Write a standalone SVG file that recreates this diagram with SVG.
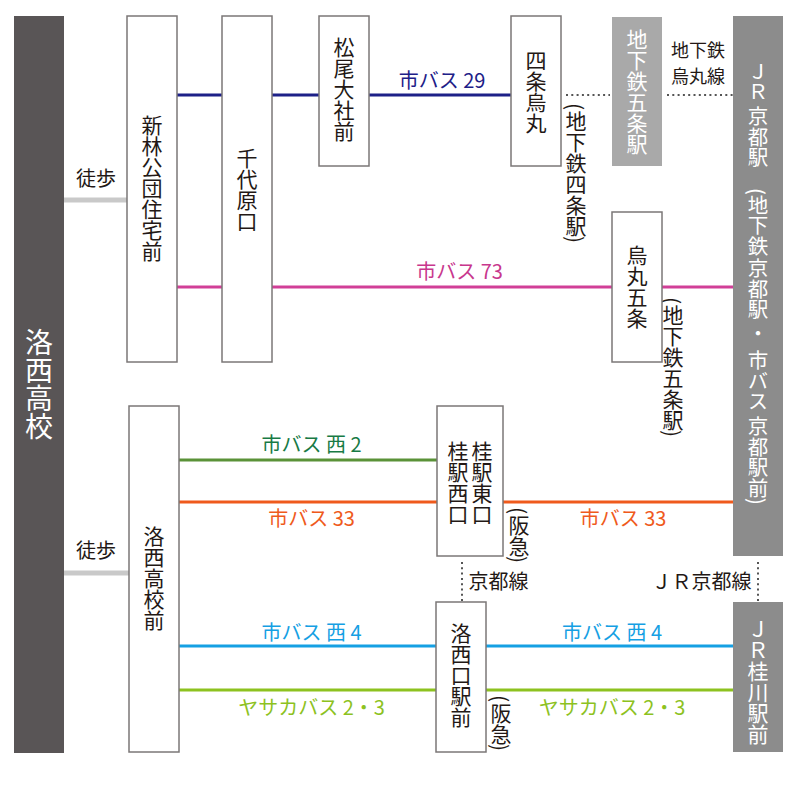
<svg xmlns="http://www.w3.org/2000/svg" width="800" height="794" viewBox="0 0 800 794">
<style>
text{font-family:"Noto Sans CJK JP","Noto Sans",sans-serif;}
.box{fill:#fff;stroke:#7b7777;stroke-width:1.5;}
.v{writing-mode:vertical-rl;font-size:21px;fill:#231815;}
.vw{writing-mode:vertical-rl;font-size:20.5px;fill:#fff;}
.h{font-size:20px;fill:#231815;}
.c{text-anchor:middle;font-size:20px;}
.walk{stroke:#c9c9c9;stroke-width:5;fill:none;}
.dot{stroke:#555;stroke-width:2;stroke-dasharray:2 3.3;fill:none;}
.ln{stroke-width:3;fill:none;}
</style>
<rect width="800" height="794" fill="#fff"/>

<g id="connectors">
  <line class="walk" x1="64" y1="200" x2="127" y2="200"/>
  <line class="walk" x1="64" y1="573" x2="129" y2="573"/>
  <g stroke="#1d2088" class="ln">
    <line x1="177" y1="95" x2="222" y2="95"/>
    <line x1="272" y1="95" x2="319" y2="95"/>
    <line x1="369" y1="95" x2="511" y2="95"/>
  </g>
  <g stroke="#d13f97" class="ln">
    <line x1="177" y1="287" x2="222" y2="287"/>
    <line x1="272" y1="287" x2="612" y2="287"/>
    <line x1="662" y1="287" x2="733" y2="287"/>
  </g>
  <line stroke="#5a9238" class="ln" x1="179" y1="460" x2="437" y2="460"/>
  <g stroke="#ef5a1c" class="ln">
    <line x1="179" y1="502" x2="437" y2="502"/>
    <line x1="503" y1="502" x2="733" y2="502"/>
  </g>
  <g stroke="#15a0e3" class="ln">
    <line x1="179" y1="646" x2="436" y2="646"/>
    <line x1="486" y1="646" x2="733" y2="646"/>
  </g>
  <g stroke="#8dc21f" class="ln">
    <line x1="179" y1="690" x2="436" y2="690"/>
    <line x1="486" y1="690" x2="733" y2="690"/>
  </g>
  <line class="dot" x1="566" y1="95" x2="610" y2="95"/>
  <line class="dot" x1="667" y1="95" x2="733" y2="95"/>
  <line class="dot" x1="462" y1="562" x2="462" y2="602"/>
  <line class="dot" x1="758" y1="562" x2="758" y2="602"/>

  <text class="h" x="76" y="186">徒歩</text>
  <text class="h" x="76" y="558">徒歩</text>
  <text class="c" x="442" y="88" fill="#1d2088">市バス 29</text>
  <text class="c" x="459.5" y="279" fill="#c8378d">市バス 73</text>
  <text class="c" x="311.5" y="452" fill="#187a45">市バス 西 2</text>
  <text class="c" x="311.5" y="526" fill="#ef5a1c">市バス 33</text>
  <text class="c" x="623" y="526" fill="#ef5a1c">市バス 33</text>
  <text class="c" x="311.5" y="640" fill="#15a0e3">市バス 西 4</text>
  <text class="c" x="612" y="640" fill="#15a0e3">市バス 西 4</text>
  <text class="c" x="311.5" y="715" fill="#8dc21f">ヤサカバス 2・3</text>
  <text class="c" x="612" y="715" fill="#8dc21f">ヤサカバス 2・3</text>
  <text class="c" x="698" y="56.6" fill="#231815" style="font-size:18px">地下鉄</text>
  <text class="c" x="698" y="83" fill="#231815" style="font-size:18px">烏丸線</text>
  <text class="c" x="498.5" y="589" fill="#231815">京都線</text>
  <text class="c" x="701.5" y="589" fill="#231815">ＪＲ京都線</text>
  <text class="v" x="576" y="103">(地下鉄四条駅)</text>
  <text class="v" x="673" y="297">(地下鉄五条駅)</text>
  <text class="v" x="519" y="507">(阪急)</text>
  <text class="v" x="501" y="695">(阪急)</text>
</g>

<g id="rakusai-koko">
  <rect x="14" y="16" width="50" height="737" fill="#595556"/>
  <text x="39" y="328" style="writing-mode:vertical-rl;font-size:28px;fill:#fff">洛西高校</text>
</g>
<g id="shinbayashi">
  <rect class="box" x="127" y="16" width="50" height="346"/>
  <text class="v" x="152" y="115">新林公団住宅前</text>
</g>
<g id="sendaiharaguchi">
  <rect class="box" x="222" y="16" width="50" height="346"/>
  <text class="v" x="247" y="148">千代原口</text>
</g>
<g id="matsuo">
  <rect class="box" x="319" y="16" width="50" height="150"/>
  <text class="v" x="344" y="37">松尾大社前</text>
</g>
<g id="shijo-karasuma">
  <rect class="box" x="511" y="16" width="50" height="150"/>
  <text class="v" x="536" y="50">四条烏丸</text>
</g>
<g id="gojo-subway">
  <rect x="612" y="17" width="50" height="149" fill="#a9a9a9"/>
  <text class="vw" x="637" y="29" style="font-size:21px">地下鉄五条駅</text>
</g>
<g id="karasuma-gojo">
  <rect class="box" x="612" y="212" width="50" height="150"/>
  <text class="v" x="637" y="245">烏丸五条</text>
</g>
<g id="jr-kyoto">
  <rect x="733" y="16" width="50" height="540" fill="#8c8c8c"/>
  <text class="vw" x="758" y="61">ＪＲ</text>
  <text class="vw" x="758" y="106">京都駅</text>
  <text class="vw" x="758" y="188">(地下鉄</text>
  <text class="vw" x="758" y="258">京都駅</text>
  <text class="vw" x="758" y="323">・</text>
  <text class="vw" x="758" y="350">市バス</text>
  <text class="vw" x="758" y="416">京都駅前)</text>
</g>
<g id="rakusai-koko-mae">
  <rect class="box" x="129" y="406" width="50" height="346"/>
  <text class="v" x="154" y="526">洛西高校前</text>
</g>
<g id="katsura">
  <rect class="box" x="437" y="406" width="66" height="150"/>
  <text class="v" x="482" y="441">桂駅東口</text>
  <text class="v" x="458" y="441">桂駅西口</text>
</g>
<g id="rakusaiguchi">
  <rect class="box" x="436" y="602" width="50" height="150"/>
  <text class="v" x="461" y="623">洛西口駅前</text>
</g>
<g id="jr-katsuragawa">
  <rect x="733" y="602" width="50" height="150" fill="#8c8c8c"/>
  <text class="vw" x="758" y="619" style="font-size:21px">ＪＲ桂川駅前</text>
</g>
</svg>
